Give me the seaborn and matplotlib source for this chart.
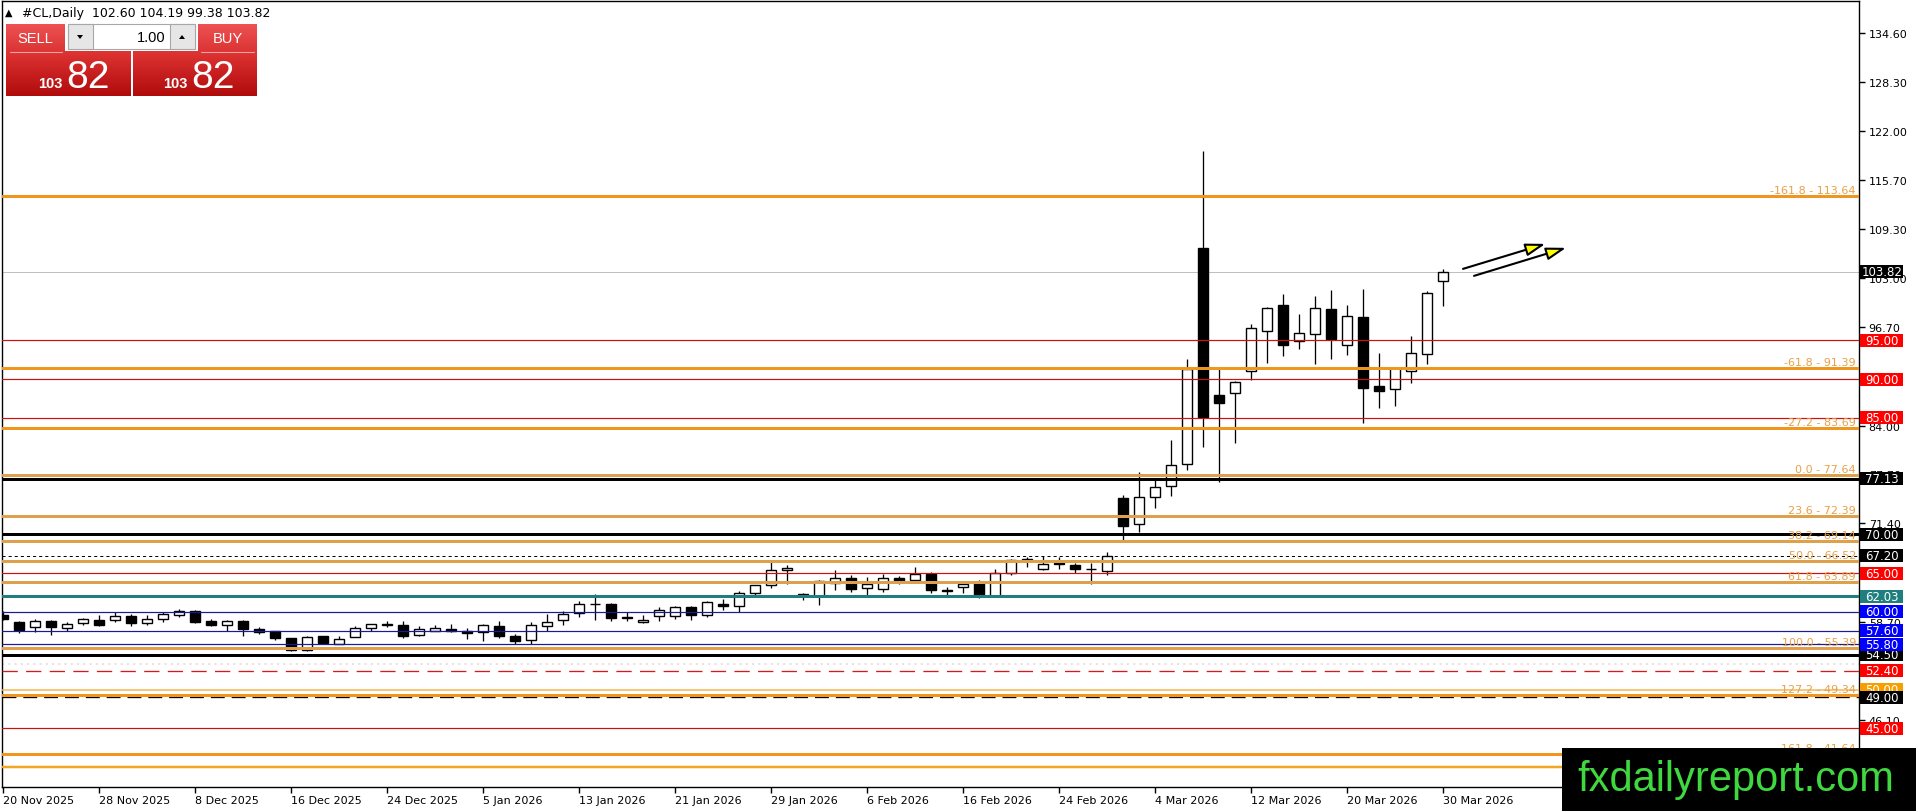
import datetime as dt
import numpy as np
import pandas as pd
import matplotlib
matplotlib.use("Agg")
import matplotlib.pyplot as plt
import matplotlib.colors as mcolors
from matplotlib.patches import Rectangle, Polygon, FancyArrowPatch
from matplotlib.transforms import blended_transform_factory
import seaborn as sns

sns.set_theme(style="white")
plt.rcParams['font.family'] = ['DejaVu Sans']
plt.rcParams['lines.scale_dashes'] = False

# ---------------- data ----------------
nov_2025 = [20, 21, 24, 25, 26, 27, 28]
dec_2025 = [1, 2, 3, 4, 5, 8, 9, 10, 11, 12, 15, 16, 17, 18, 19, 22, 23, 24, 26, 29, 30, 31]
jan_2026 = [2, 5, 6, 7, 8, 9, 12, 13, 14, 15, 16, 19, 20, 21, 22, 23, 26, 27, 28, 29, 30]
feb_2026 = [2, 3, 4, 5, 6, 9, 10, 11, 12, 13, 16, 17, 18, 19, 20, 23, 24, 25, 26, 27]
mar_2026 = [2, 3, 4, 5, 6, 9, 10, 11, 12, 13, 16, 17, 18, 19, 20, 23, 24, 25, 26, 27, 30]

opens = [59.66, 58.71, 58.02, 58.84, 57.90, 58.54, 59.01, 58.97, 59.53, 58.54,
         59.10, 59.61, 60.17, 58.84, 58.32, 58.84, 57.80, 57.50, 56.65, 55.06,
         56.90, 55.87, 56.78, 57.90, 58.35, 58.32, 57.03, 57.60, 57.85, 57.50,
         57.38, 58.24, 56.95, 56.35, 58.15, 58.97, 59.87, 61.00, 61.03, 59.30,
         58.67, 59.44, 59.44, 60.60, 59.57, 61.03, 60.73, 62.45, 63.44, 65.38,
         62.10, 62.10, 63.74, 64.39, 63.10, 62.97, 64.39, 64.08, 64.90, 62.75,
         63.20, 63.83, 62.10, 65.03, 66.60, 65.55, 66.25, 66.10, 65.50, 65.25,
         74.69, 71.26, 74.78, 76.20, 79.07, 106.91, 87.97, 88.18, 91.02, 96.22,
         99.57, 94.93, 95.79, 99.05, 94.33, 97.98, 89.08, 88.74, 91.02, 93.17,
         102.60]
highs = [60.10, 58.80, 59.10, 58.90, 58.75, 59.20, 59.66, 59.96, 59.70, 59.60,
         59.96, 60.43, 60.30, 59.10, 58.97, 58.92, 58.06, 57.60, 56.70, 56.86,
         56.95, 56.86, 58.15, 58.50, 58.80, 58.88, 58.24, 58.28, 58.45, 57.94,
         58.50, 58.88, 57.16, 58.67, 59.74, 60.09, 61.46, 62.32, 61.16, 60.00,
         59.57, 60.60, 60.82, 60.73, 61.35, 61.60, 62.75, 63.50, 66.40, 66.10,
         62.45, 64.17, 65.46, 64.69, 64.50, 64.90, 64.60, 65.80, 65.12, 63.20,
         63.83, 64.08, 65.55, 66.75, 67.10, 67.18, 67.05, 66.30, 66.30, 67.74,
         75.12, 78.00, 77.06, 82.08, 92.61, 119.41, 91.40, 89.70, 97.12, 99.27,
         100.98, 98.41, 100.64, 101.50, 99.57, 101.63, 93.38, 91.45, 95.49, 101.29,
         104.19]
lows = [59.00, 57.29, 57.42, 57.03, 57.60, 58.28, 58.20, 58.75, 58.15, 58.28,
        58.67, 59.31, 58.54, 58.15, 57.60, 56.86, 57.16, 56.34, 54.97, 55.00,
        55.80, 55.80, 56.75, 57.55, 58.02, 56.60, 56.86, 57.55, 57.42, 56.47,
        56.22, 56.65, 55.80, 55.80, 57.60, 58.37, 59.31, 59.01, 58.80, 58.80,
        58.54, 58.80, 59.14, 58.92, 59.40, 60.20, 60.00, 62.10, 63.14, 63.60,
        61.50, 60.95, 62.80, 62.54, 62.10, 62.54, 63.60, 64.04, 62.37, 62.10,
        62.45, 61.80, 62.05, 64.77, 65.76, 65.38, 65.55, 64.95, 63.53, 64.77,
        69.30, 70.30, 73.36, 74.99, 78.22, 81.22, 76.71, 81.74, 89.82, 92.05,
        92.91, 93.81, 91.88, 92.61, 93.04, 84.36, 86.29, 86.46, 89.51, 91.96,
        99.38]
closes = [59.10, 57.64, 58.84, 58.02, 58.50, 59.10, 58.28, 59.53, 58.54, 59.10,
          59.70, 60.17, 58.75, 58.28, 58.88, 57.76, 57.42, 56.60, 55.06, 56.78,
          55.96, 56.52, 57.94, 58.45, 58.40, 56.86, 57.80, 57.94, 57.55, 57.25,
          58.37, 56.86, 56.30, 58.37, 58.71, 59.74, 61.03, 61.05, 59.23, 59.25,
          58.97, 60.26, 60.60, 59.57, 61.29, 60.82, 62.45, 63.44, 65.46, 65.68,
          62.32, 63.96, 64.39, 63.00, 63.53, 64.39, 64.04, 64.82, 62.80, 62.80,
          63.60, 62.10, 65.03, 66.66, 66.75, 66.20, 66.20, 65.55, 65.55, 67.18,
          71.04, 74.78, 76.07, 78.86, 91.32, 85.05, 86.89, 89.60, 96.56, 99.14,
          94.33, 95.92, 99.14, 95.10, 98.11, 88.83, 88.40, 91.40, 93.34, 101.11,
          103.82]

fib_names = ["-161.8", "-61.8", "-27.2", "0.0", "23.6", "38.2", "50.0", "61.8", "100.0", "127.2", "161.8"]
fib_values = [113.64, 91.39, 83.69, 77.64, 72.39, 69.14, 66.52, 63.89, 55.39, 49.34, 41.64]

red_levels = [95.00, 90.00, 85.00, 65.00, 45.00]
black_levels = [77.13, 70.00, 54.50]
dotted_level = 67.20
teal_level = 62.03
blue_levels = [60.00, 57.60, 55.80]
red_dashed_level = 52.40
orange_level = 50.00
black_dashed_level = 49.00
gold_level = 40.00
last_price = 103.82

y_tick_values = [134.60, 128.30, 122.00, 115.70, 109.30, 103.00, 96.70, 90.40,
                 84.00, 77.70, 71.40, 65.10, 58.70, 52.40, 46.10, 39.80]

# arrows: (start bar, start price, end bar, end price)
arrows = [(91.25, 104.19, 96.40, 107.41), (91.94, 103.29, 97.69, 106.90)]

# ---------------- build frame ----------------
dates = ([dt.date(2025, 11, d) for d in nov_2025] + [dt.date(2025, 12, d) for d in dec_2025] +
         [dt.date(2026, 1, d) for d in jan_2026] + [dt.date(2026, 2, d) for d in feb_2026] +
         [dt.date(2026, 3, d) for d in mar_2026])
df = pd.DataFrame(dict(date=dates, open=opens, high=highs, low=lows, close=closes))
df["i"] = np.arange(len(df))
df["up"] = df.close >= df.open
df["bottom"] = np.minimum(df.open, df.close)
df["height"] = np.maximum((df.close - df.open).abs(), 0.03)

W, H = 1916, 812
fig = plt.figure(figsize=(W / 100, H / 100), dpi=100)
fig.patch.set_facecolor("white")
PX = 0.72  # points per pixel

ax_l, ax_r, ax_t, ax_b = 2, 1859, 2, 788
ax = fig.add_axes([ax_l / W, 1 - ax_b / H, (ax_r - ax_l) / W, (ax_b - ax_t) / H])
ax.set_facecolor("white")

# candles
ax.vlines(df.i, df.low, df.high, color="black", lw=1.0 * PX * 1.3, zorder=3)
u = df[df.up]
d = df[~df.up]
ax.bar(u.i, u.height, bottom=u.bottom, width=0.6, color="white", edgecolor="black", linewidth=1.0, zorder=4)
ax.bar(d.i, d.height, bottom=d.bottom, width=0.6, color="black", edgecolor="black", linewidth=1.0, zorder=4)

# levels
for v in red_levels:
    ax.axhline(v, color="#cc1111", lw=1 * PX * 1.2, zorder=5)
for v in black_levels:
    ax.axhline(v, color="black", lw=3 * PX, zorder=5)
ax.axhline(dotted_level, color="black", lw=1 * PX, ls=(0, (2.2, 2.2)), zorder=5)
ax.axhline(teal_level, color="#1f7f7f", lw=3 * PX, zorder=5)
for v in blue_levels:
    ax.axhline(v, color="#1a1a99", lw=1 * PX * 1.2, zorder=5)
ax.axhline(53.25, color="#f0dede", lw=2 * PX, ls=(0, (1.5, 3)), zorder=2)
ax.axhline(red_dashed_level, color="#d41a1a", lw=1.3 * PX, ls=(0, (11, 6)), zorder=5)
ax.axhline(orange_level, color="#f5b54e", lw=1.5 * PX, zorder=5)
ax.axhline(black_dashed_level, color="black", lw=1.3 * PX, ls=(0, (10, 5)), zorder=5)
ax.axhline(gold_level, color="#f3a622", lw=2.5 * PX, zorder=5)
ax.axhline(last_price, color="#c0c0c0", lw=1 * PX, zorder=2)

bright = {113.64, 91.39, 83.69, 49.34, 41.64}
trans = blended_transform_factory(fig.transFigure, ax.transData)
for name, v in zip(fib_names, fib_values):
    col = "#f0961f" if v in bright else "#dfa04c"
    ax.axhline(v, color=col, lw=3 * PX, zorder=5)
    ax.text(1856 / W, v + 0.12, f"{name} - {v:.2f}", transform=trans, ha="right", va="bottom",
            fontsize=8, color="#e8a048", zorder=6, clip_on=False)

# arrows
for x0, y0, x1, y1 in arrows:
    ax.add_patch(FancyArrowPatch((x0, y0), (x1, y1), arrowstyle="-|>,head_length=12,head_width=3.8",
                                 mutation_scale=1, lw=1.5, edgecolor="black", facecolor="#ffff00",
                                 shrinkA=0, shrinkB=0, zorder=8))

# axes
ax.set_xlim(-1 / 16, (ax_r - 3) / 16)
ax.set_ylim(37.44, 138.70)
ax.yaxis.tick_right()
ax.set_yticks(y_tick_values)
ax.set_yticklabels([f"{v:.2f}" for v in y_tick_values])
tick_idx = list(range(0, len(df), 6))
ax.set_xticks(tick_idx)
ax.set_xticklabels([f"{df.date[k].day} {df.date[k].strftime('%b %Y')}" for k in tick_idx])
for lab in ax.get_xticklabels():
    lab.set_ha("left")
ax.tick_params(axis="y", which="both", left=False, right=True, direction="out", length=4, width=1,
               pad=3, labelsize=8, colors="black", labelcolor="black")
ax.tick_params(axis="x", which="both", bottom=True, top=False, direction="out", length=4, width=1,
               pad=2, labelsize=8, colors="black", labelcolor="black")
for sp in ax.spines.values():
    sp.set_color("black")
    sp.set_linewidth(1.0)
ax.grid(False)

# price label boxes
boxes = [(54.50, "black"), (55.80, "#0000ff"), (57.60, "#0000ff"), (60.00, "#0000ff"),
         (62.03, "#1f7f7f"), (65.00, "#ff0000"), (67.20, "black"), (70.00, "black"),
         (77.13, "black"), (85.00, "#ff0000"), (90.00, "#ff0000"), (95.00, "#ff0000"),
         (50.00, "#f5a000"), (49.00, "black"), (52.40, "#ff0000"), (45.00, "#ff0000"),
         (last_price, "black")]
bh = 13 / 7.762
for k, (v, c) in enumerate(boxes):
    ax.add_patch(Rectangle((1860 / W, v - bh / 2), 43 / W, bh, transform=trans, facecolor=c,
                           edgecolor="none", zorder=10 + 2 * k, clip_on=False))
    ax.text(1882 / W, v, f"{v:.2f}", transform=trans, ha="center", va="center", color="white",
            fontsize=8.5, zorder=11 + 2 * k, clip_on=False)

# ---------------- overlay (widget, header, watermark) ----------------
ov = fig.add_axes([0, 0, 1, 1], zorder=20)
ov.axis("off")


def grad(x0, y0, x1, y1, ctop, cbot):
    t = np.linspace(0, 1, 60)[:, None, None]
    a = np.array(mcolors.to_rgb(ctop))[None, None, :]
    b = np.array(mcolors.to_rgb(cbot))[None, None, :]
    ov.imshow(a * (1 - t) + b * t, extent=(x0, x1, y1, y0), aspect="auto",
              interpolation="bilinear", zorder=2)


grad(6, 25, 65, 52, "#ee5252", "#db3535")
grad(198, 25, 257, 52, "#ee5252", "#db3535")
grad(6, 52, 131, 97, "#df3434", "#b00b0b")
grad(133, 52, 257, 97, "#df3434", "#b00b0b")
ov.plot([10, 62], [52.5, 52.5], color="#f4a0a0", lw=0.8, zorder=3)
ov.plot([201, 254], [52.5, 52.5], color="#f4a0a0", lw=0.8, zorder=3)
ov.add_patch(Rectangle((68, 25), 127, 25, facecolor="white", edgecolor="#a8a8a8", lw=0.8, zorder=2))
ov.add_patch(Rectangle((68, 25), 25, 25, facecolor="#e6e6e6", edgecolor="#a8a8a8", lw=0.8, zorder=3))
ov.add_patch(Rectangle((170, 25), 25, 25, facecolor="#e6e6e6", edgecolor="#a8a8a8", lw=0.8, zorder=3))
ov.add_patch(Polygon([(77, 36), (83, 36), (80, 40)], closed=True, facecolor="black", edgecolor="none", zorder=4))
ov.add_patch(Polygon([(179, 40), (185, 40), (182, 36)], closed=True, facecolor="black", edgecolor="none", zorder=4))
wf = ["Liberation Sans", "DejaVu Sans"]
ov.text(35.5, 39, "SELL", color="white", fontsize=10.5, family=wf, ha="center", va="center", zorder=5)
ov.text(227.5, 39, "BUY", color="white", fontsize=10.5, family=wf, ha="center", va="center", zorder=5)
ov.text(166, 38.5, "1.00", color="black", fontsize=10.5, family=wf, ha="right", va="center", zorder=5)
ov.text(63, 88, "103", color="white", fontsize=10.5, weight="bold", family=wf, ha="right", va="baseline", zorder=5)
ov.text(66, 88, "82", color="white", fontsize=28, family=wf, ha="left", va="baseline", zorder=5)
ov.text(188, 88, "103", color="white", fontsize=10.5, weight="bold", family=wf, ha="right", va="baseline", zorder=5)
ov.text(191, 88, "82", color="white", fontsize=28, family=wf, ha="left", va="baseline", zorder=5)

ov.text(5, 13, "\u25b2", fontsize=7, color="black", va="center", ha="left", zorder=5)
ov.text(22, 13, "#CL,Daily  102.60 104.19 99.38 103.82", fontsize=9, color="black",
        va="center", ha="left", zorder=5)

ov.add_patch(Rectangle((1562, 749), W - 1562, H - 749, facecolor="black", edgecolor="none", zorder=6))
ov.text(1577, 791, "fxdailyreport.com", color="#3fd83f", fontsize=30, family=wf,
        va="baseline", ha="left", zorder=7)

ov.set_xlim(0, W)
ov.set_ylim(H, 0)

fig.savefig("out.png", dpi=100, facecolor="white")
